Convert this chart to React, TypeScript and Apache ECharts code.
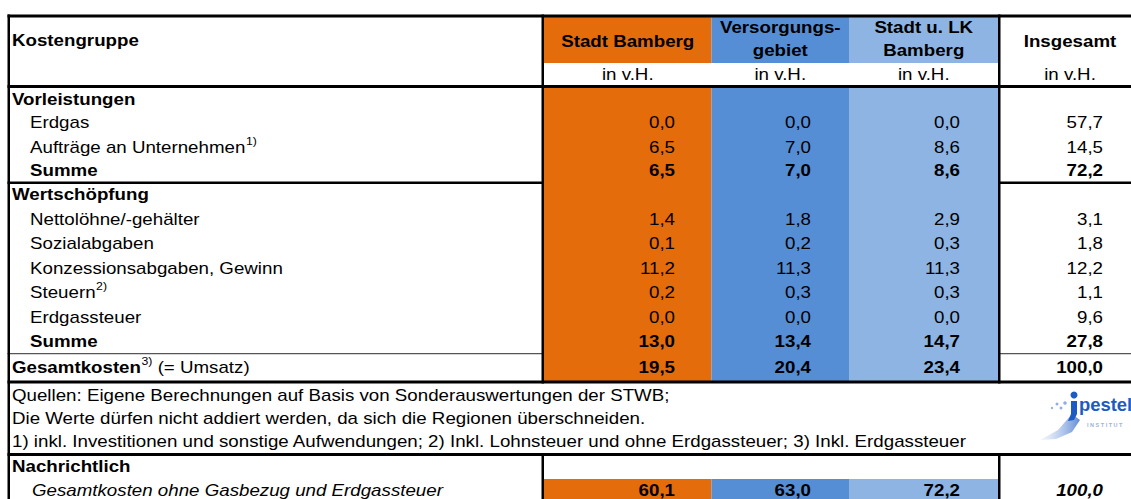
import React, { useEffect, useRef } from "react";
import * as echarts from "echarts";

// ---------- data ----------
const stubHeader = "Kostengruppe";
const columnHeaders = [["Stadt Bamberg"], ["Versorgungs-", "gebiet"], ["Stadt u. LK", "Bamberg"], ["Insgesamt"]];
const unitLabels = ["in v.H.", "in v.H.", "in v.H.", "in v.H."];
const groupLabels = ["Vorleistungen", "Wertschöpfung"];
const rowLabels = [
  "Erdgas",
  "Aufträge an Unternehmen",
  "Summe",
  "Nettolöhne/-gehälter",
  "Sozialabgaben",
  "Konzessionsabgaben, Gewinn",
  "Steuern",
  "Erdgassteuer",
  "Summe",
  "Gesamtkosten",
];
const rowFootnotes = ["", "1)", "", "", "", "", "2)", "", "", "3)"];
const rowBold = [false, false, true, false, false, false, false, false, true, true];
const stadtBamberg = [0.0, 6.5, 6.5, 1.4, 0.1, 11.2, 0.2, 0.0, 13.0, 19.5];
const versorgungsgebiet = [0.0, 7.0, 7.0, 1.8, 0.2, 11.3, 0.3, 0.0, 13.4, 20.4];
const stadtLkBamberg = [0.0, 8.6, 8.6, 2.9, 0.3, 11.3, 0.3, 0.0, 14.7, 23.4];
const insgesamt = [57.7, 14.5, 72.2, 3.1, 1.8, 12.2, 1.1, 9.6, 27.8, 100.0];
const gesamtSuffix = " (= Umsatz)";
const sourceNotes = [
  "Quellen: Eigene Berechnungen auf Basis von Sonderauswertungen der STWB;",
  "Die Werte dürfen nicht addiert werden, da sich die Regionen überschneiden.",
  "1) inkl. Investitionen und sonstige Aufwendungen; 2) Inkl. Lohnsteuer und ohne Erdgassteuer; 3) Inkl. Erdgassteuer",
];
const memoTitle = "Nachrichtlich";
const memoLabel = "Gesamtkosten ohne Gasbezug und Erdgassteuer";
const memoValues = [60.1, 63.0, 72.2, 100.0];
const logoWord = "pestel";
const logoSub = "I N S T I T U T";

// ---------- layout / style ----------
const FONT = "'Liberation Sans', Arial, Helvetica, sans-serif";
const FS = 16;
const SUPFS = 10.5;
const SX = 1.17;
const COLORS = ["#E46C0A", "#558ED5", "#8DB4E2"];
const colEdges = [544, 711.5, 849, 998.5, 1140];
const valueRight = [675, 811, 960, 1103];
const rowY = [122, 147, 170, 219, 243, 268, 292, 317, 341, 367];
const groupY = [99, 194];
const noteY = [395, 418, 441];

function fmt(v: number) {
  return v.toFixed(1).replace(".", ",");
}

let measureCtx: CanvasRenderingContext2D | null = null;
function textWidth(text: string, size: number, weight: string) {
  if (!measureCtx) measureCtx = document.createElement("canvas").getContext("2d");
  if (!measureCtx) return text.length * size * 0.55;
  measureCtx.font = `${weight} ${size}px ${FONT}`;
  return measureCtx.measureText(text).width;
}

function T(x: number, y: number, text: string, o: any = {}) {
  const size = o.size ?? FS;
  const weight = o.weight ?? "normal";
  const fstyle = o.italic ? "italic" : "normal";
  const align = o.align ?? "left";
  const style: any = {
    text,
    fill: o.fill ?? "#000",
    fontFamily: FONT,
    fontSize: size,
    fontWeight: weight,
    fontStyle: fstyle,
    textAlign: align,
    align,
    textVerticalAlign: "middle",
    verticalAlign: "middle",
  };
  return { type: "text", x, y, scaleX: o.sx ?? SX, silent: true, style };
}

function R(x: number, y: number, w: number, h: number, fill: string) {
  return { type: "rect", silent: true, shape: { x, y, width: w, height: h }, style: { fill } };
}

function buildElements() {
  const els: any[] = [];
  const series = [stadtBamberg, versorgungsgebiet, stadtLkBamberg, insgesamt];
  // colored fills
  for (let c = 0; c < 3; c++) {
    const x0 = colEdges[c];
    const w = colEdges[c + 1] - x0;
    els.push(R(x0, 17, w, 46, COLORS[c]));
    els.push(R(x0, 87, w, 295, COLORS[c]));
    els.push(R(x0, 479, w, 25, COLORS[c]));
  }
  // lines
  const black = "#000";
  els.push(R(7.5, 14.5, 1130, 3, black));
  els.push(R(7.5, 85, 1130, 3, black));
  els.push(R(7.5, 181.5, 535, 2.5, black));
  els.push(R(998, 181.5, 140, 2.5, black));
  els.push(R(7.5, 353, 535, 1.2, "#555"));
  els.push(R(998, 353, 140, 1.2, "#555"));
  els.push(R(7.5, 380.5, 1130, 3, black));
  els.push(R(7.5, 453, 1130, 3, black));
  els.push(R(7.5, 14.5, 2.5, 490, black));
  els.push(R(541.5, 14.5, 2.5, 369, black));
  els.push(R(998, 14.5, 2.5, 369, black));
  els.push(R(541.5, 453, 2.5, 50, black));
  els.push(R(998, 453, 2.5, 50, black));

  // header texts
  els.push(T(12, 40, stubHeader, { weight: "bold" }));
  columnHeaders.forEach((lines, c) => {
    const cx = c < 3 ? (colEdges[c] + colEdges[c + 1]) / 2 : 1070;
    if (lines.length === 1) {
      els.push(T(cx, 41, lines[0], { weight: "bold", align: "center" }));
    } else {
      els.push(T(cx, 27, lines[0], { weight: "bold", align: "center" }));
      els.push(T(cx, 50, lines[1], { weight: "bold", align: "center" }));
    }
    els.push(T(cx, 74, unitLabels[c], { align: "center" }));
  });

  // groups
  groupLabels.forEach((g, i) => els.push(T(12, groupY[i], g, { weight: "bold" })));

  // rows
  rowLabels.forEach((label, r) => {
    const y = rowY[r];
    const bold = rowBold[r];
    const fn = rowFootnotes[r];
    const isTotal = r === rowLabels.length - 1;
    const x0 = isTotal ? 12 : 30;
    const w = bold ? "bold" : "normal";
    els.push(T(x0, y, label, { weight: w }));
    if (fn) {
      const sx = x0 + textWidth(label, FS, w) * SX + 0.5;
      els.push(T(sx, y - 5.5, fn, { size: SUPFS }));
      if (isTotal) {
        const sx2 = sx + textWidth(fn, SUPFS, "normal") * SX;
        els.push(T(sx2, y, gesamtSuffix));
      }
    }
    series.forEach((s, c) => {
      els.push(T(valueRight[c], y, fmt(s[r]), { align: "right", weight: w }));
    });
  });

  // notes
  sourceNotes.forEach((n, i) => els.push(T(12, noteY[i], n)));

  // memo section
  els.push(T(12, 466, memoTitle, { weight: "bold" }));
  els.push(T(32, 490, memoLabel, { italic: true }));
  memoValues.forEach((v, c) => {
    els.push(T(valueRight[c], 490, fmt(v), { align: "right", weight: "bold", italic: c === 3 }));
  });

  // logo
  els.push({
    type: "polygon",
    silent: true,
    shape: { points: [[1040, 440], [1058, 430], [1072, 414], [1080, 420], [1072, 432], [1056, 439]] },
    style: {
      fill: new echarts.graphic.LinearGradient(0, 0, 1, 0, [
        { offset: 0, color: "rgba(170,195,235,0.15)" },
        { offset: 1, color: "rgba(70,120,205,0.85)" },
      ]),
    },
  });
  [[1052, 408, 1.2], [1057, 404, 1.5], [1061, 408, 1.5], [1065, 403, 1.8]].forEach(([x, y, r]) =>
    els.push({ type: "circle", silent: true, shape: { cx: x, cy: y, r }, style: { fill: "#8FB0E6" } })
  );
  els.push({ type: "circle", silent: true, shape: { cx: 1074, cy: 395, r: 3.5 }, style: { fill: "#1C5BC4" } });
  els.push({
    type: "polygon",
    silent: true,
    shape: { points: [[1071, 401], [1077, 401], [1077, 414], [1074, 420], [1068, 421], [1071, 414]] },
    style: { fill: "#1C5BC4" },
  });
  els.push(T(1079, 404, logoWord, { weight: "bold", size: 19, sx: 0.97, fill: "#1C5BC4" }));
  els.push(T(1087, 425, logoSub, { size: 5.5, sx: 1.0, fill: "#9DB3D6", weight: "bold" }));
  return els;
}

export default function App() {
  const ref = useRef<HTMLDivElement>(null);
  useEffect(() => {
    if (!ref.current) return;
    const chart = echarts.init(ref.current, undefined, { renderer: "svg" });
    chart.setOption({
      animation: false,
      backgroundColor: "#fff",
      graphic: { elements: buildElements() },
    });
    return () => chart.dispose();
  }, []);
  return (
    <div
      ref={ref}
      style={{ position: "absolute", left: 0, top: 0, width: 1131, height: 499, background: "#fff" }}
    />
  );
}
